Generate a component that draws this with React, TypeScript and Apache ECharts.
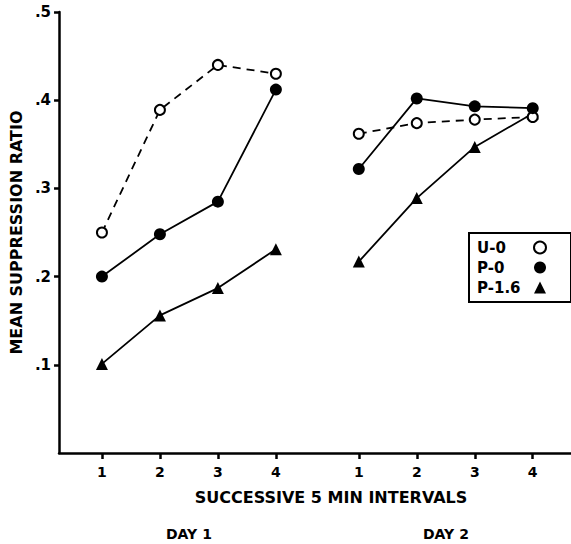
import React, { useEffect, useRef } from "react";
import * as echarts from "echarts";

// Tick positions on the x axis (two days of four 5-min intervals each, with a gap between days)
const day1Positions = [1, 2, 3, 4];
const day2Positions = [5.43, 6.43, 7.43, 8.43];
const xTickLabels = ["1", "2", "3", "4", "1", "2", "3", "4"];

const yTickValues = [0.1, 0.2, 0.3, 0.4, 0.5];
const yTickLabels = [".1", ".2", ".3", ".4", ".5"];

const groupNames = ["U-0", "P-0", "P-1.6"];

const u0Day1 = [0.25, 0.389, 0.44, 0.43];
const u0Day2 = [0.362, 0.374, 0.378, 0.381];
const p0Day1 = [0.2, 0.248, 0.285, 0.412];
const p0Day2 = [0.322, 0.402, 0.393, 0.391];
const p16Day1 = [0.101, 0.156, 0.187, 0.231];
const p16Day2 = [0.217, 0.289, 0.347, 0.385];

const dayLabels = ["DAY 1", "DAY 2"];

const FONT = "DejaVu Sans";

export default function App() {
  const ref = useRef<HTMLDivElement>(null);

  useEffect(() => {
    if (!ref.current) return;
    const chart = echarts.init(ref.current, null, { renderer: "svg" });
    const xPositions = [...day1Positions, ...day2Positions];
    const pairs = (xs: number[], ys: number[]) => xs.map((x, i) => [x, ys[i]]);

    const mk = (name: string, xs: number[], ys: number[], kind: string) => {
      const base: any = {
        name,
        type: "line",
        data: pairs(xs, ys),
        symbolSize: 11,
        lineStyle: { color: "#000", width: 1.8, type: "solid" },
        itemStyle: { color: "#000", borderColor: "#000", borderWidth: 0 },
        emphasis: { disabled: true },
        z: 2,
      };
      if (kind === "open") {
        base.symbol = "circle";
        base.symbolSize = 10;
        base.lineStyle.type = [8, 6];
        base.itemStyle = { color: "#fff", borderColor: "#000", borderWidth: 2 };
        base.z = 3;
      } else if (kind === "filled") {
        base.symbol = "circle";
        base.symbolSize = 12;
        base.z = 4;
      } else {
        base.symbol = "triangle";
        base.symbolSize = 12;
        base.z = 2;
      }
      return base;
    };

    const option: any = {
      animation: false,
      backgroundColor: "#fff",
      grid: { left: 59, right: 0, top: 12, bottom: 91, containLabel: false },
      legend: {
        left: 469,
        top: 233,
        orient: "vertical",
        align: "right",
        padding: [7, 24, 7, 8],
        itemGap: 5,
        itemWidth: 12,
        itemHeight: 12,
        borderColor: "#000",
        borderWidth: 2,
        selectedMode: false,
        formatter: "{n|{name}}",
        textStyle: {
          fontFamily: FONT,
          fontWeight: "bold",
          fontSize: 15,
          color: "#000",
          rich: {
            n: {
              width: 52,
              align: "left",
              fontFamily: FONT,
              fontWeight: "bold",
              fontSize: 15,
              color: "#000",
            },
          },
        },
        data: [
          { name: groupNames[0], icon: "circle", itemStyle: { color: "#fff", borderColor: "#000", borderWidth: 2 } },
          { name: groupNames[1], icon: "circle" },
          { name: groupNames[2], icon: "triangle" },
        ],
      },
      xAxis: {
        type: "value",
        min: 0.26,
        max: 9.09,
        splitLine: { show: false },
        axisLine: { show: true, onZero: false, lineStyle: { color: "#000", width: 2.5 } },
        axisTick: {
          show: true,
          customValues: xPositions,
          length: 6,
          lineStyle: { color: "#000", width: 2.5 },
        },
        axisLabel: {
          customValues: xPositions,
          margin: 12,
          color: "#000",
          fontFamily: FONT,
          fontWeight: "bold",
          fontSize: 14,
          formatter: (v: number) => {
            const i = xPositions.findIndex((p) => Math.abs(p - v) < 1e-6);
            return i >= 0 ? xTickLabels[i] : "";
          },
        },
        name: "SUCCESSIVE 5 MIN INTERVALS",
        nameLocation: "middle",
        nameGap: 36,
        nameTextStyle: {
          fontFamily: FONT,
          fontWeight: "bold",
          fontSize: 16,
          color: "#000",
          padding: [0, 0, 0, 32],
        },
      },
      yAxis: {
        type: "value",
        min: 0,
        max: 0.5,
        splitLine: { show: false },
        axisLine: { show: true, lineStyle: { color: "#000", width: 2.5 } },
        axisTick: {
          show: true,
          customValues: yTickValues,
          length: 5,
          lineStyle: { color: "#000", width: 2.5 },
        },
        axisLabel: {
          customValues: yTickValues,
          margin: 8,
          color: "#000",
          fontFamily: FONT,
          fontWeight: "bold",
          fontSize: 15,
          formatter: (v: number) => {
            const i = yTickValues.findIndex((p) => Math.abs(p - v) < 1e-6);
            return i >= 0 ? yTickLabels[i] : "";
          },
        },
        name: "MEAN SUPPRESSION RATIO",
        nameLocation: "middle",
        nameRotate: 90,
        nameGap: 27,
        nameTextStyle: { fontFamily: FONT, fontWeight: "bold", fontSize: 16, color: "#000" },
      },
      graphic: [
        {
          type: "text",
          left: 190 - 24,
          top: 527,
          style: { text: dayLabels[0], font: `bold 14px "${FONT}"`, fill: "#000" },
        },
        {
          type: "text",
          left: 447 - 24,
          top: 527,
          style: { text: dayLabels[1], font: `bold 14px "${FONT}"`, fill: "#000" },
        },
      ],
      series: [
        mk(groupNames[2], day1Positions, p16Day1, "tri"),
        mk(groupNames[2], day2Positions, p16Day2, "tri"),
        mk(groupNames[0], day1Positions, u0Day1, "open"),
        mk(groupNames[0], day2Positions, u0Day2, "open"),
        mk(groupNames[1], day1Positions, p0Day1, "filled"),
        mk(groupNames[1], day2Positions, p0Day2, "filled"),
      ],
    };
    chart.setOption(option);
    return () => chart.dispose();
  }, []);

  return <div ref={ref} style={{ width: 571, height: 544, position: "absolute", left: 0, top: 0 }} />;
}
